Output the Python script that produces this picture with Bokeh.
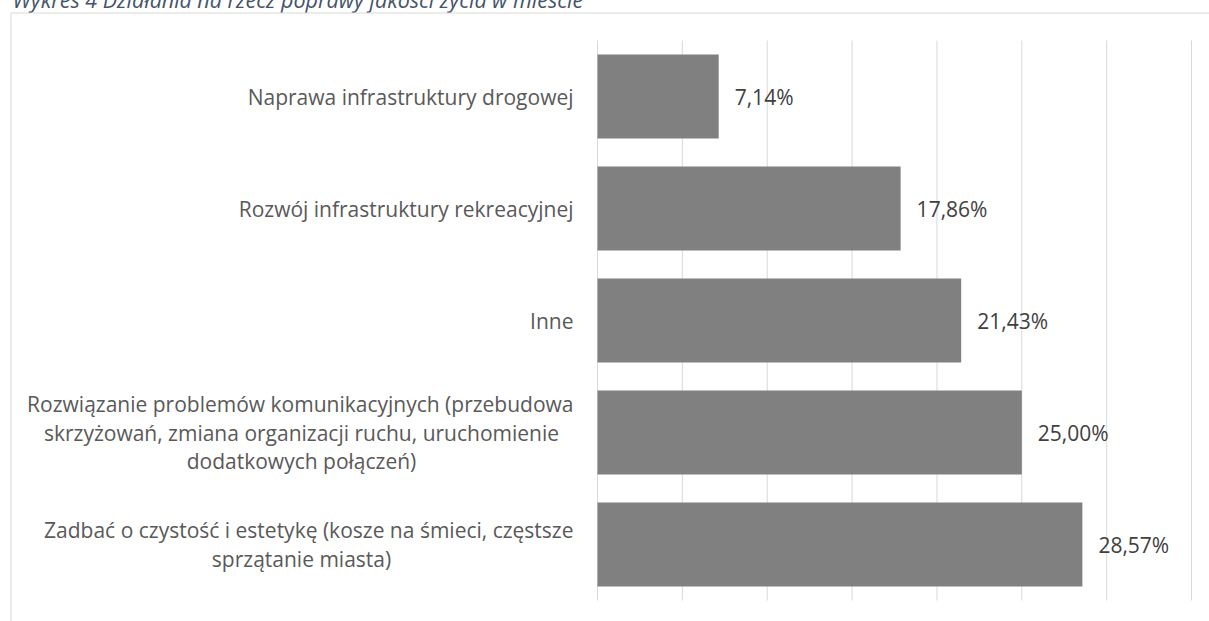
from bokeh.plotting import figure
from bokeh.models import ColumnDataSource, BoxAnnotation, Range1d
from bokeh.core.properties import value
from bokeh.embed import file_html
from bokeh.resources import INLINE

# ---------------- data ----------------
title_text = "Wykres 4 Działania na rzecz poprawy jakości życia w mieście"
categories = [
    "Naprawa infrastruktury drogowej",
    "Rozwój infrastruktury rekreacyjnej",
    "Inne",
    "Rozwiązanie problemów komunikacyjnych (przebudowa\nskrzyżowań, zmiana organizacji ruchu, uruchomienie\ndodatkowych połączeń)",
    "Zadbać o czystość i estetykę (kosze na śmieci, częstsze\nsprzątanie miasta)",
]
values = [7.14, 17.86, 21.43, 25.00, 28.57]
x_ticks = [0, 5, 10, 15, 20, 25, 30, 35]

# ---------------- layout constants (pixels) ----------------
FONT = "Open Sans"
FS = "21px"
W, H = 1209, 629          # canvas; shifted 8px up so the cut title fits
SHIFT = 8
PLOT_L = 597              # page x of the 0 % line
PLOT_T = 40               # page y of the top of the category bands
BAND = 112                # px per category
PPU = 84.86 / 5           # px per percentage point
LINE_H = 28.8

n = len(categories)
ypos = [n - 1 - i for i in range(n)]            # top category highest
x_start = -PLOT_L / PPU
x_end = (W - PLOT_L) / PPU
y_top = n - 0.5
y_bot = -0.5
y_end = y_top + (PLOT_T + SHIFT) / BAND
y_start = y_bot - (H - SHIFT - (PLOT_T + n * BAND)) / BAND

def px_to_y(page_y):
    return y_end - (page_y + SHIFT) / BAND

def px_to_x(page_x):
    return x_start + page_x / PPU

p = figure(width=W, height=H, output_backend="svg", toolbar_location=None,
           x_range=Range1d(x_start, x_end), y_range=Range1d(y_start, y_end),
           x_axis_type=None, y_axis_type=None,
           min_border_left=0, min_border_right=0,
           min_border_top=0, min_border_bottom=0,
           outline_line_color=None, margin=(-SHIFT, 0, 0, 0))
p.grid.visible = False
p.background_fill_color = "white"
p.border_fill_color = "white"

# vertical gridlines over the category bands
p.segment(x0=x_ticks, x1=x_ticks, y0=[y_bot] * len(x_ticks),
          y1=[y_top] * len(x_ticks), line_color="#d9d9d9", line_width=1)

labels = [f"{v:.2f}".replace(".", ",") + "%" for v in values]
src = ColumnDataSource(dict(y=ypos, value=values, label=labels))

p.hbar(y="y", left=0, right="value", height=0.75, source=src,
       fill_color="#808080", line_color=None)

p.text(x="value", y="y", text="label", source=src, x_offset=16,
       text_baseline="middle", text_align="left",
       text_font=value(FONT), text_font_size=FS, text_color="#404040")

# category labels: first line right-aligned next to the bars,
# further lines of a wrapped label centred under it
rx, ry, rt = [], [], []
cx, cy, ct = [], [], []
for c, yc in zip(categories, ypos):
    lines = c.split("\n")
    k = len(lines)
    for j, ln in enumerate(lines):
        yy = yc + ((k - 1) / 2 - j) * LINE_H / BAND
        if j == 0:
            rx.append(0); ry.append(yy); rt.append(ln)
        else:
            cx.append(0); cy.append(yy); ct.append(ln)
p.text(x=rx, y=ry, text=rt, x_offset=-24, text_align="right",
       text_baseline="middle", text_font=value(FONT), text_font_size=FS,
       text_color="#595959")
p.text(x=cx, y=cy, text=ct, x_offset=-296, text_align="center",
       text_baseline="middle", text_font=value(FONT), text_font_size=FS,
       text_color="#595959")

# chart-area border (left and top edges visible)
p.add_layout(BoxAnnotation(left=px_to_x(10.5), right=x_end + 50,
                           top=px_to_y(12.5), bottom=y_start - 5,
                           fill_alpha=0, line_color="#d9d9d9", line_alpha=1,
                           line_width=1))

# title, cut off by the top of the page as in the reference
p.text(x=[px_to_x(12)], y=[px_to_y(-1)], text=[title_text],
       text_align="left", text_baseline="middle",
       text_font=value(FONT), text_font_style="italic", text_font_size="21.5px",
       text_color="#44546A")

open("out.html", "w").write(file_html(p, INLINE))
